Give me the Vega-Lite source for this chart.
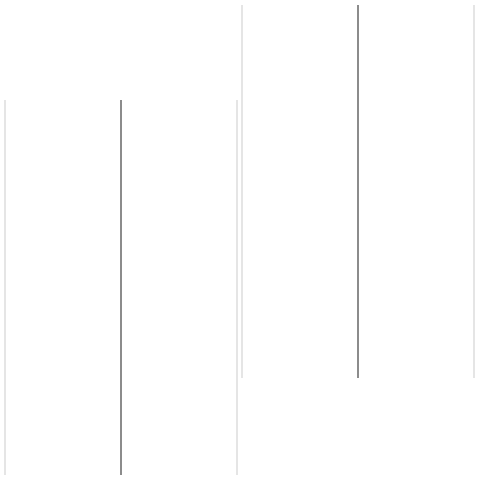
{
  "$schema": "https://vega.github.io/schema/vega-lite/v6.json",
  "width": 480,
  "height": 480,
  "padding": 0,
  "autosize": {"type": "fit", "contains": "padding"},
  "config": {"view": {"stroke": null}},
  "data": {
    "values": [
      {"group": "A", "line": "edge", "x": 5, "low": 5, "high": 380},
      {"group": "A", "line": "center", "x": 121, "low": 5, "high": 380},
      {"group": "A", "line": "edge", "x": 237, "low": 5, "high": 380},
      {"group": "B", "line": "edge", "x": 242, "low": 102, "high": 475},
      {"group": "B", "line": "center", "x": 358, "low": 102, "high": 475},
      {"group": "B", "line": "edge", "x": 474, "low": 102, "high": 475}
    ]
  },
  "mark": {"type": "rule", "strokeWidth": 1.5},
  "encoding": {
    "x": {"field": "x", "type": "quantitative", "scale": {"domain": [0, 480], "nice": false, "zero": false}, "axis": null},
    "y": {"field": "low", "type": "quantitative", "scale": {"domain": [0, 480], "nice": false}, "axis": null},
    "y2": {"field": "high"},
    "color": {
      "field": "line",
      "type": "nominal",
      "scale": {"domain": ["edge", "center"], "range": ["#dddddd", "#666666"]},
      "legend": null
    }
  }
}
